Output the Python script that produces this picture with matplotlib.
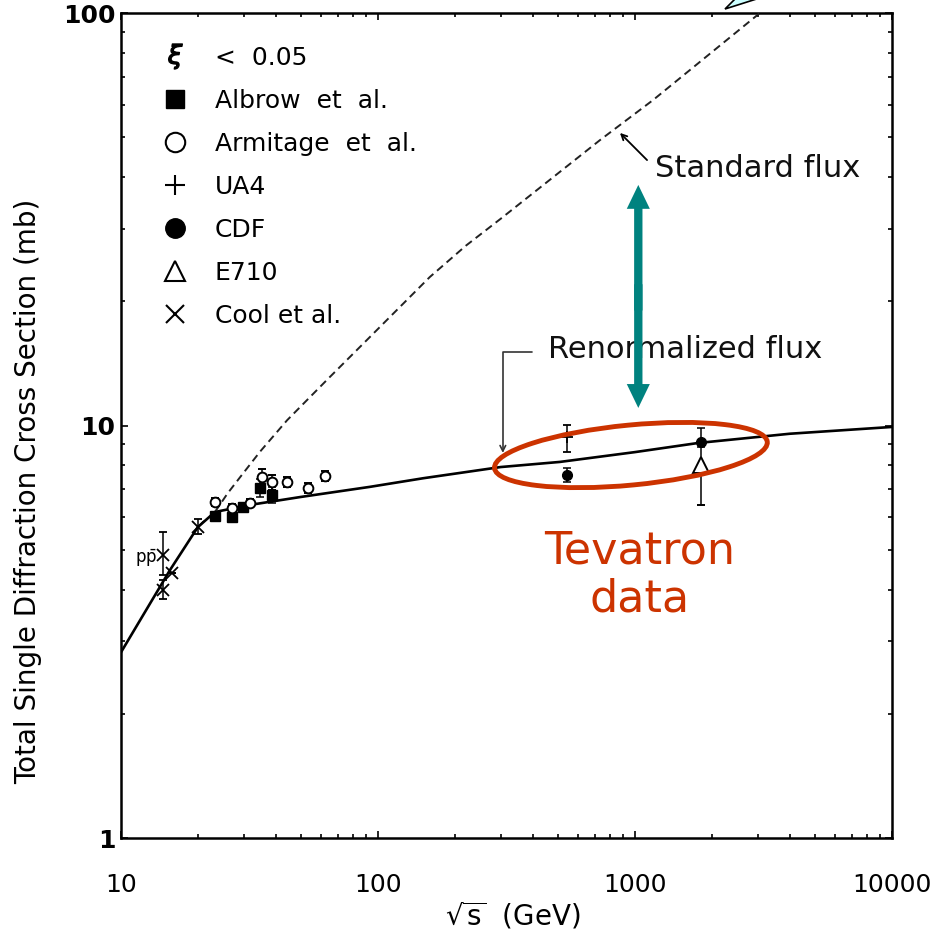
import numpy as np
import matplotlib
matplotlib.use('Agg')
import matplotlib.pyplot as plt
from matplotlib.patches import Ellipse, Polygon, FancyArrowPatch
from matplotlib.lines import Line2D
import matplotlib.transforms as mtransforms
from matplotlib.ticker import LogLocator, NullFormatter

plt.rcParams['font.family'] = ['DejaVu Sans']
plt.rcParams['mathtext.fontset'] = 'dejavusans'

# ---------------- data ----------------
renorm_x = [10, 15.5, 19.9, 23.2, 31.8, 50, 93, 150, 300, 510, 1000, 1760, 4000, 10000]
renorm_y = [2.82, 4.46, 5.67, 6.17, 6.42, 6.71, 7.10, 7.45, 7.93, 8.16, 8.62, 9.07, 9.55, 9.92]

std_x = [23.2, 26.0, 29.1, 34.8, 44.3, 63.3, 93.1, 159, 220, 300, 731, 1175, 3062]
std_y = [6.17, 6.85, 7.50, 8.65, 10.3, 12.9, 16.4, 22.9, 27.3, 31.7, 49.2, 61.5, 100]

albrow_x = [23.2, 27.0, 29.9, 34.8, 38.7]
albrow_y = [6.03, 6.00, 6.35, 7.06, 6.79]
albrow_err = [0.15, 0.15, 0.15, 0.35, 0.3]

armitage_x = [23.2, 27.0, 31.8, 35.4, 38.7, 44.3, 53.4, 62.2]
armitage_y = [6.52, 6.31, 6.49, 7.50, 7.29, 7.29, 7.06, 7.54]
armitage_err = [0.15, 0.15, 0.15, 0.35, 0.3, 0.2, 0.2, 0.2]

ua4_x = [546]
ua4_y = [9.4]
ua4_err_lo = [0.78]
ua4_err_hi = [0.62]

cdf_x = [546, 1800]
cdf_y = [7.59, 9.12]
cdf_err_lo = [0.29, 0.25]
cdf_err_hi = [0.28, 0.72]

e710_x = [1800]
e710_y = [8.0]
e710_err_lo = [1.6]
e710_err_hi = [1.0]

cool_x = [14.6, 14.6, 15.8, 19.9]
cool_y = [4.85, 3.99, 4.39, 5.67]
cool_err_lo = [0.5, 0.2, 0.0, 0.22]
cool_err_hi = [0.68, 0.22, 0.0, 0.25]

x_ticks = [10, 100, 1000, 10000]
x_ticklabels = ['10', '100', '1000', '10000']
y_ticks = [1, 10, 100]
y_ticklabels = ['1', '10', '100']

legend_labels = ['<  0.05', 'Albrow  et  al.', 'Armitage  et  al.', 'UA4', 'CDF', 'E710', 'Cool et al.']

RED = '#CC3300'
TEAL = '#00827F'

# ---------------- figure ----------------
fig = plt.figure(figsize=(9.41, 9.36), dpi=100)
ax = fig.add_axes([121/941, 98/936, 771/941, 825/936])
ax.set_xscale('log')
ax.set_yscale('log')
ax.set_xlim(10, 10000)
ax.set_ylim(1, 100)

ax.plot(renorm_x, renorm_y, color='black', lw=1.9, zorder=3)
ax.plot(std_x, std_y, color='#222222', lw=1.4, ls=(0, (4, 2.5)), zorder=3)

eb = dict(capsize=3, elinewidth=1.1, capthick=1.1, ls='none', zorder=4)
ax.errorbar(albrow_x, albrow_y, yerr=albrow_err, fmt='s', ms=7, color='black', **eb)
ax.errorbar(armitage_x, armitage_y, yerr=armitage_err, fmt='o', ms=7, mfc='white',
            mec='black', mew=1.4, color='black', **eb)
ax.errorbar(ua4_x, ua4_y, yerr=[ua4_err_lo, ua4_err_hi], fmt='+', ms=8, mew=1.3,
            color='black', **eb)
ax.errorbar(cdf_x, cdf_y, yerr=[cdf_err_lo, cdf_err_hi], fmt='o', ms=7, color='black', **eb)
ax.errorbar(e710_x, e710_y, yerr=[e710_err_lo, e710_err_hi], fmt='^', ms=11, mfc='white',
            mec='black', mew=1.4, color='black', **eb)
ax.errorbar(cool_x, cool_y, yerr=[cool_err_lo, cool_err_hi], fmt='x', ms=8, mew=1.3,
            color='black', **eb)

ax.text(13.8, 4.77, r'$\mathrm{p}\bar{\mathrm{p}}$', ha='right', va='center', fontsize=12)

# ---------------- axes styling ----------------
ax.set_xticks(x_ticks, labels=x_ticklabels, fontsize=18)
ax.set_yticks(y_ticks, labels=y_ticklabels, fontsize=18, fontweight='bold')
ax.xaxis.set_minor_locator(LogLocator(base=10, subs=np.arange(2, 10)))
ax.yaxis.set_minor_locator(LogLocator(base=10, subs=np.arange(2, 10)))
ax.xaxis.set_minor_formatter(NullFormatter())
ax.yaxis.set_minor_formatter(NullFormatter())
ax.tick_params(which='both', direction='in', top=True, right=True, width=1.2)
ax.tick_params(which='major', length=5)
ax.tick_params(which='minor', length=3)
ax.tick_params(axis='x', which='major', pad=25.5)
ax.tick_params(axis='y', which='major', pad=4)
for s in ax.spines.values():
    s.set_linewidth(1.8)

ax.set_xlabel(r'$\sqrt{\mathrm{s}}$  (GeV)', fontsize=20)
ax.xaxis.set_label_coords(0.508, -0.075)
ax.set_ylabel('Total Single Diffraction Cross Section (mb)', fontsize=20)
ax.yaxis.set_label_coords(-0.1025, 0.4206)

# ---------------- legend ----------------
handles = [
    Line2D([], [], ls='none', marker=r'$\xi$', ms=18, color='black'),
    Line2D([], [], ls='none', marker='s', ms=13, color='black'),
    Line2D([], [], ls='none', marker='o', ms=14, mfc='white', mec='black', mew=1.5),
    Line2D([], [], ls='none', marker='+', ms=14, mew=1.5, color='black'),
    Line2D([], [], ls='none', marker='o', ms=14, color='black'),
    Line2D([], [], ls='none', marker='^', ms=14, mfc='white', mec='black', mew=1.5),
    Line2D([], [], ls='none', marker='x', ms=13, mew=1.5, color='black'),
]
ax.legend(handles, legend_labels, loc='upper left', bbox_to_anchor=(0.0538, 0.9606),
          frameon=False, fontsize=18, handlelength=1.0, handletextpad=1.1,
          labelspacing=0.76, borderpad=0, borderaxespad=0)

# ---------------- annotations ----------------
ax.text(1197, 40.0, 'Standard flux', fontsize=22, ha='left', va='baseline', color='#111111')
ax.annotate('', xy=(874, 51.2), xytext=(1114, 44.0),
            arrowprops=dict(arrowstyle='->', lw=1.3, color='black', shrinkA=0, shrinkB=0))

ax.text(458.6, 14.57, 'Renormalized flux', fontsize=22, ha='left', va='baseline', color='#111111')
ax.annotate('', xy=(306, 8.58), xytext=(397, 15.07),
            arrowprops=dict(arrowstyle='->', lw=1.2, color='#333333', shrinkA=0, shrinkB=0,
                            connectionstyle='angle,angleA=0,angleB=90,rad=0'))

# teal double arrow
for ystart, ytip in ((19.0, 38.3), (22.0, 11.03)):
    ax.add_patch(FancyArrowPatch((1030, ystart), (1030, ytip),
                                 arrowstyle='simple,head_length=0.86,head_width=0.83,tail_width=0.3',
                                 mutation_scale=20, color=TEAL, lw=0, shrinkA=0, shrinkB=0, zorder=5))

# red ellipse around Tevatron data
trans = fig.dpi_scale_trans + mtransforms.ScaledTranslation(964, 8.48, ax.transData)
ax.add_patch(Ellipse((0, 0), width=2.74, height=0.60, angle=5.5, fill=False,
                     ec=RED, lw=3.5, transform=trans, zorder=6))

ax.text(1046, 4.34, 'Tevatron\ndata', fontsize=32, ha='center', va='center',
        multialignment='center', color=RED, linespacing=1.15)

# cropped callout shape at the top edge
fig.patches.append(Polygon([(725, 927), (738, 940), (766, 940)], closed=True,
                           transform=None, fc='#CCFFFF', ec='black', lw=1.2, figure=fig))

fig.savefig('out.png', dpi=100, facecolor='white')
